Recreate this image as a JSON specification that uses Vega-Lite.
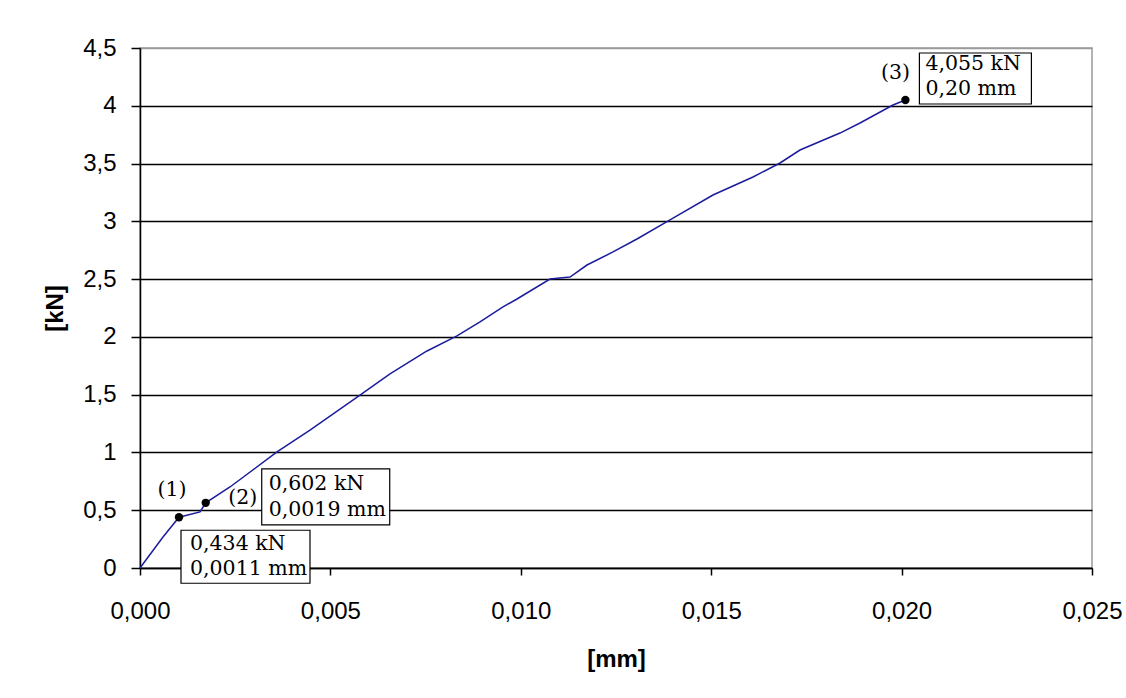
{
  "$schema": "https://vega.github.io/schema/vega-lite/v6.json",
  "width": 952,
  "height": 520,
  "autosize": {"type": "none"},
  "padding": {"left": 140, "top": 48, "right": 34, "bottom": 130},
  "background": "white",
  "config": {
    "view": {"stroke": "#9a9a9a", "strokeWidth": 1.5},
    "axis": {
      "domainColor": "#000",
      "domainWidth": 1.5,
      "tickColor": "#000",
      "tickWidth": 1.5,
      "labelFont": "Liberation Sans",
      "labelFontSize": 24,
      "labelColor": "#000",
      "labelFlush": false,
      "labelOverlap": false,
      "titleFont": "Liberation Sans",
      "titleFontSize": 24,
      "titleFontWeight": "bold",
      "titleColor": "#000"
    }
  },
  "datasets": {
    "curve": [
      {"mm": 0, "kN": 0},
      {"mm": 0.000604, "kN": 0.268},
      {"mm": 0.001024, "kN": 0.439},
      {"mm": 0.001576, "kN": 0.485},
      {"mm": 0.001726, "kN": 0.564},
      {"mm": 0.002363, "kN": 0.701},
      {"mm": 0.003598, "kN": 1.004},
      {"mm": 0.004464, "kN": 1.194},
      {"mm": 0.005777, "kN": 1.497},
      {"mm": 0.006565, "kN": 1.679},
      {"mm": 0.007537, "kN": 1.878},
      {"mm": 0.008324, "kN": 2.008},
      {"mm": 0.008929, "kN": 2.129},
      {"mm": 0.009533, "kN": 2.259},
      {"mm": 0.0099, "kN": 2.328},
      {"mm": 0.010767, "kN": 2.501},
      {"mm": 0.011292, "kN": 2.518},
      {"mm": 0.011738, "kN": 2.622},
      {"mm": 0.012421, "kN": 2.735},
      {"mm": 0.013051, "kN": 2.847},
      {"mm": 0.013918, "kN": 3.012},
      {"mm": 0.015047, "kN": 3.228},
      {"mm": 0.016098, "kN": 3.384},
      {"mm": 0.016807, "kN": 3.505},
      {"mm": 0.017332, "kN": 3.617},
      {"mm": 0.018382, "kN": 3.764},
      {"mm": 0.018908, "kN": 3.851},
      {"mm": 0.019774, "kN": 4.007},
      {"mm": 0.0201, "kN": 4.05}
    ],
    "marks": [
      {"id": "(1)", "mm": 0.001024, "kN": 0.439, "label": "0,434 kN\n0,0011 mm"},
      {"id": "(2)", "mm": 0.001726, "kN": 0.564, "label": "0,602 kN\n0,0019 mm"},
      {"id": "(3)", "mm": 0.0201, "kN": 4.05, "label": "4,055 kN\n0,20 mm"}
    ]
  },
  "encoding": {
    "x": {
      "field": "mm",
      "type": "quantitative",
      "scale": {"domain": [0, 0.025], "nice": false},
      "axis": {
        "title": "[mm]",
        "grid": false,
        "values": [0, 0.005, 0.01, 0.015, 0.02, 0.025],
        "labelExpr": "replace(format(datum.value, '.3f'), '.', ',')",
        "tickSize": 7,
        "labelPadding": 24,
        "titleY": 91,
        "titleBaseline": "middle"
      }
    },
    "y": {
      "field": "kN",
      "type": "quantitative",
      "scale": {"domain": [0, 4.5], "nice": false},
      "axis": {
        "title": "[kN]",
        "grid": true,
        "gridColor": {"condition": {"test": "datum.value >= 4.5", "value": "#9a9a9a"}, "value": "#000"},
        "gridWidth": 1.3,
        "values": [0, 0.5, 1, 1.5, 2, 2.5, 3, 3.5, 4, 4.5],
        "labelExpr": "replace(format(datum.value, '~g'), '.', ',')",
        "tickSize": 9,
        "labelPadding": 15,
        "titleX": -85,
        "titleY": 260,
        "titleAngle": 270,
        "titleBaseline": "middle"
      }
    }
  },
  "layer": [
    {
      "data": {"name": "curve"},
      "mark": {"type": "line", "color": "#1c1c9c", "strokeWidth": 1.5}
    },
    {
      "data": {"name": "marks"},
      "mark": {"type": "point", "filled": true, "color": "#000", "opacity": 1, "size": 70, "shape": "circle"}
    },
    {
      "data": {"name": "marks"},
      "transform": [{"filter": "datum.id === '(1)'"}],
      "layer": [
        {"mark": {"type": "point", "shape": "M2,13H131V66H2Z", "size": 4, "filled": true, "fill": "#fff", "stroke": "#000", "strokeWidth": 1.2, "opacity": 1}},
        {"mark": {"type": "text", "font": "DejaVu Serif", "fontSize": 20.5, "align": "left", "baseline": "alphabetic", "dx": 11, "dy": 33, "lineBreak": "\n", "lineHeight": 25, "color": "#000"}, "encoding": {"text": {"field": "label"}}},
        {"mark": {"type": "text", "font": "DejaVu Serif", "fontSize": 20.5, "align": "center", "baseline": "middle", "dx": -7, "dy": -27, "color": "#000"}, "encoding": {"text": {"field": "id"}}}
      ]
    },
    {
      "data": {"name": "marks"},
      "transform": [{"filter": "datum.id === '(2)'"}],
      "layer": [
        {"mark": {"type": "point", "shape": "M56,-34H184V22H56Z", "size": 4, "filled": true, "fill": "#fff", "stroke": "#000", "strokeWidth": 1.2, "opacity": 1}},
        {"mark": {"type": "text", "font": "DejaVu Serif", "fontSize": 20.5, "align": "left", "baseline": "alphabetic", "dx": 63, "dy": -13, "lineBreak": "\n", "lineHeight": 26, "color": "#000"}, "encoding": {"text": {"field": "label"}}},
        {"mark": {"type": "text", "font": "DejaVu Serif", "fontSize": 20.5, "align": "center", "baseline": "middle", "dx": 37, "dy": -5, "color": "#000"}, "encoding": {"text": {"field": "id"}}}
      ]
    },
    {
      "data": {"name": "marks"},
      "transform": [{"filter": "datum.id === '(3)'"}],
      "layer": [
        {"mark": {"type": "point", "shape": "M14,-47H126V4H14Z", "size": 4, "filled": true, "fill": "#fff", "stroke": "#000", "strokeWidth": 1.2, "opacity": 1}},
        {"mark": {"type": "text", "font": "DejaVu Serif", "fontSize": 20.5, "align": "left", "baseline": "alphabetic", "dx": 20, "dy": -30, "lineBreak": "\n", "lineHeight": 25, "color": "#000"}, "encoding": {"text": {"field": "label"}}},
        {"mark": {"type": "text", "font": "DejaVu Serif", "fontSize": 20.5, "align": "center", "baseline": "middle", "dx": -10, "dy": -27, "color": "#000"}, "encoding": {"text": {"field": "id"}}}
      ]
    }
  ]
}
